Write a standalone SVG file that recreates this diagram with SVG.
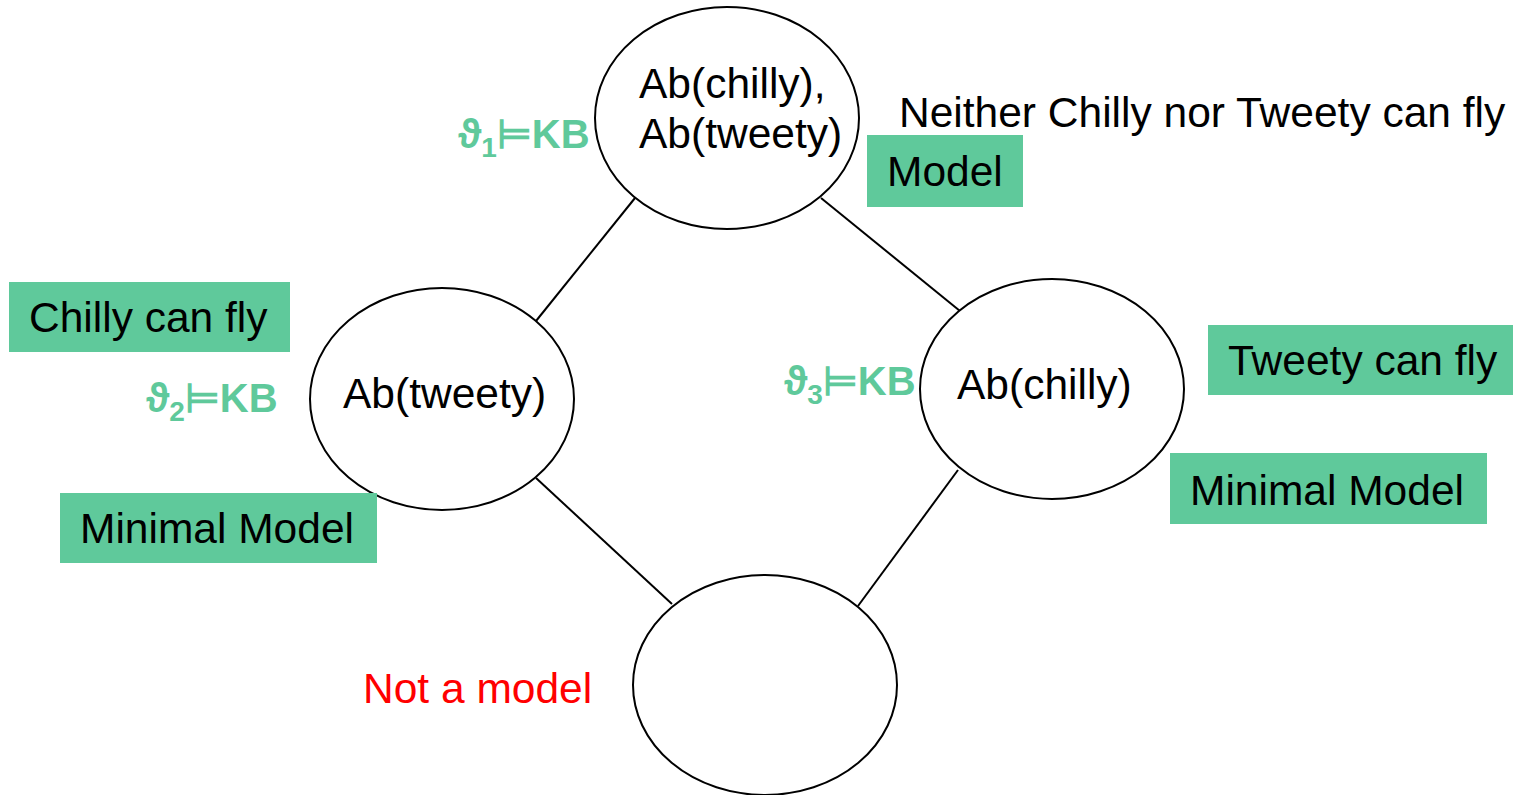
<svg xmlns="http://www.w3.org/2000/svg" width="1513" height="795" viewBox="0 0 1513 795">
<style>
.n{fill:#fff;stroke:#000;stroke-width:2}
.t{font-family:"Liberation Sans",Arial,sans-serif;font-size:42.5px;fill:#000}
.box{fill:#5FC99B}
.g{font-family:"Liberation Sans",Arial,sans-serif;font-size:40px;font-weight:bold;fill:#5FC99B}
.c line{stroke:#000;stroke-width:2}
</style>
<rect width="1513" height="795" fill="#fff"/>
<g class="c" id="connectors">
<line x1="635" y1="198" x2="536" y2="321"/>
<line x1="821" y1="198" x2="960" y2="311"/>
<line x1="536" y1="478" x2="672" y2="604"/>
<line x1="958" y1="470" x2="858" y2="606"/>
</g>
<g id="top"><ellipse class="n" cx="727" cy="118" rx="132" ry="111"/>
<text class="t" x="639" y="98">Ab(chilly),</text><text class="t" x="639" y="148">Ab(tweety)</text></g>
<g id="left"><ellipse class="n" cx="442" cy="399" rx="132" ry="111"/>
<text class="t" x="343" y="408">Ab(tweety)</text></g>
<g id="right"><ellipse class="n" cx="1052" cy="389" rx="132" ry="110"/>
<text class="t" x="957" y="399">Ab(chilly)</text></g>
<g id="bottom"><ellipse class="n" cx="765" cy="685" rx="132" ry="110"/></g>
<g id="neither"><text class="t" x="899" y="127">Neither Chilly nor Tweety can fly</text></g>
<g id="model"><rect class="box" x="867" y="135" width="156" height="72"/><text class="t" x="887" y="186">Model</text></g>
<g id="chilly"><rect class="box" x="9" y="282" width="281" height="70"/><text class="t" x="29" y="332">Chilly can fly</text></g>
<g id="tweety"><rect class="box" x="1208" y="325" width="305" height="70"/><text class="t" x="1228" y="375">Tweety can fly</text></g>
<g id="minL"><rect class="box" x="60" y="493" width="317" height="70"/><text class="t" x="80" y="543">Minimal Model</text></g>
<g id="minR"><rect class="box" x="1170" y="453" width="317" height="71"/><text class="t" x="1190" y="505">Minimal Model</text></g>
<g id="notmodel"><text class="t" x="363" y="703" style="fill:#FF0000">Not a model</text></g>
<g id="th1"><text class="g" x="458" y="148">ϑ<tspan font-size="28" dy="9">1</tspan><tspan dy="-9">⊨KB</tspan></text></g>
<g id="th2"><text class="g" x="146" y="412">ϑ<tspan font-size="28" dy="9">2</tspan><tspan dy="-9">⊨KB</tspan></text></g>
<g id="th3"><text class="g" x="784" y="395">ϑ<tspan font-size="28" dy="9">3</tspan><tspan dy="-9">⊨KB</tspan></text></g>
</svg>
